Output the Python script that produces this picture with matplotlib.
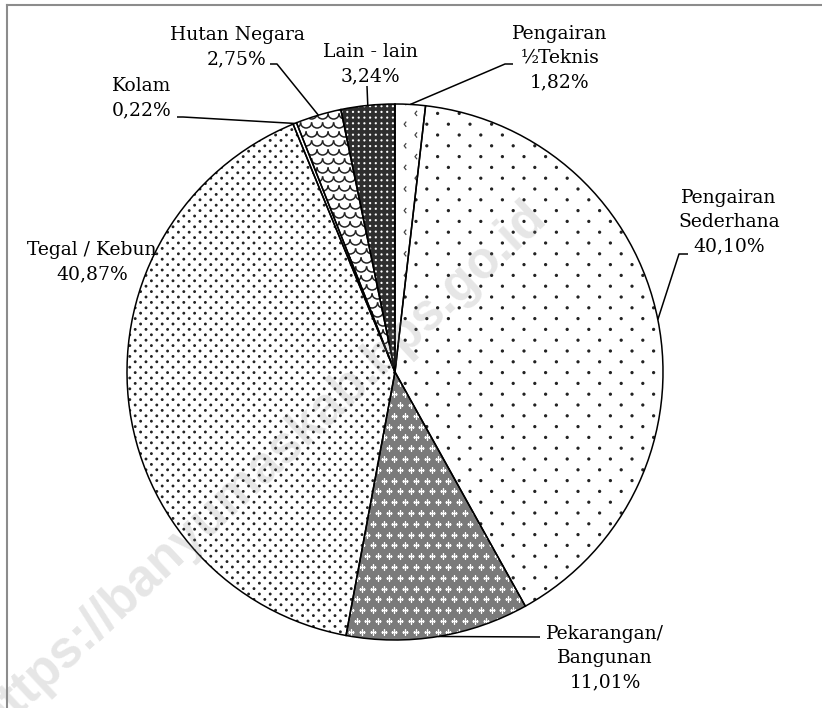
import numpy as np
import matplotlib
matplotlib.use('Agg')
import matplotlib.pyplot as plt
from matplotlib.path import Path
from matplotlib.lines import Line2D

# ---------------- data ----------------
categories = ['Pengairan\n½Teknis', 'Pengairan\nSederhana', 'Pekarangan/\nBangunan',
              'Tegal / Kebun', 'Kolam', 'Hutan Negara', 'Lain - lain']
values = [1.82, 40.10, 11.01, 40.87, 0.22, 2.75, 3.24]

# ---------------- layout ----------------
W, H = 822, 708
CX, CY, R = 395, 372, 268


def px(x, y):
    return ((x - CX) / R, (CY - y) / R)


fig = plt.figure(figsize=(W / 100, H / 100), dpi=100)
ax = fig.add_axes([0, 0, 1, 1])

faces = ['white', 'white', '#7a7a7a', 'white', 'white', 'white', '#2e2e2e']
wedges, _ = ax.pie(values, startangle=90, counterclock=False, radius=1, colors=faces,
                   wedgeprops=dict(edgecolor='none', linewidth=0))


def grid(dx_px, dy_px, stagger=True):
    dx, dy = dx_px / R, dy_px / R
    ys = np.arange(-1.05, 1.06, dy)
    pts = []
    for i, y in enumerate(ys):
        off = dx / 2 if (stagger and i % 2) else 0
        xs = np.arange(-1.05 + off, 1.06, dx)
        pts.append(np.column_stack([xs, np.full_like(xs, y)]))
    return np.vstack(pts)


chevron = Path([(0.4, 1), (-0.4, 0), (0.4, -1)], [Path.MOVETO, Path.LINETO, Path.LINETO])
arc = Path.arc(180, 360)

textures = [
    dict(g=(21.6, 10.8, True), marker=chevron, s=14, fc='none', ec='#444', lw=0.9),
    dict(g=(21.6, 10.8, True), marker='o', s=5.5, fc='#222222', ec='none', lw=0),
    dict(g=(10.8, 10.8, True), marker='+', s=14, fc='white', ec='white', lw=1.0),
    dict(g=(10.8, 5.4, True), marker='o', s=4.3, fc='#222222', ec='none', lw=0),
    None,
    dict(g=(11, 9, True), marker=arc, s=65, fc='none', ec='#222', lw=1.1),
    dict(g=(5.7, 5.7, False), marker='o', s=2.6, fc='white', ec='none', lw=0),
]

for w, t in zip(wedges, textures):
    if t is None:
        continue
    pts = grid(*t['g'])
    sc = ax.scatter(pts[:, 0], pts[:, 1], marker=t['marker'], s=t['s'],
                    facecolors=t['fc'], edgecolors=t['ec'], linewidths=t['lw'], zorder=2)
    sc.set_clip_path(w)

edges, _ = ax.pie(values, startangle=90, counterclock=False, radius=1,
                  wedgeprops=dict(facecolor='none', edgecolor='black', linewidth=1.1))
for e in edges:
    e.set_zorder(3)

# ---------------- labels & leader lines ----------------
text_pos = [(560, 58), (729, 222), (605, 658), (92, 262), (142, 98), (237, 47), (370, 64)]
leaders = [[(513, 64), (505, 64)],
           [(688, 254), (679, 254)],
           [(540, 637)],
           None,
           [(177, 117), (183, 117)],
           [(270, 64), (277, 64)],
           [(367, 86)]]

for w, cat, v, tp, ld in zip(wedges, categories, values, text_pos, leaders):
    pct = f"{v:.2f}".replace('.', ',') + '%'
    x, y = px(*tp)
    ax.text(x, y, cat + '\n' + pct, ha='center', va='center', multialignment='center',
            fontsize=13.5, family='DejaVu Serif', linespacing=1.45, color='black', zorder=6)
    if ld is not None:
        th = np.deg2rad((w.theta1 + w.theta2) / 2)
        pts = [px(*p) for p in ld] + [(np.cos(th), np.sin(th))]
        xs, ys = zip(*pts)
        ax.plot(xs, ys, color='black', lw=1.1, zorder=6, solid_capstyle='butt')

# watermark
wx, wy = px(262, 468)
ax.text(wx, wy, 'https://banyumaskab.bps.go.id', rotation=43, fontsize=37,
        family='Liberation Sans', weight='bold', color='#808080', alpha=0.2,
        ha='center', va='center', zorder=5)

ax.set_xlim(px(0, 0)[0], px(W, 0)[0])
ax.set_ylim(px(0, H)[1], px(0, 0)[1])
ax.set_aspect('equal', adjustable='datalim')
ax.axis('off')

# frame (top and left visible)
fig.add_artist(Line2D([7 / W, 1.0], [1 - 4.5 / H, 1 - 4.5 / H], transform=fig.transFigure,
                      color='#8c8c8c', lw=1.5))
fig.add_artist(Line2D([7 / W, 7 / W], [0.0, 1 - 4.5 / H], transform=fig.transFigure,
                      color='#8c8c8c', lw=1.5))

fig.savefig('out.png', dpi=100)
